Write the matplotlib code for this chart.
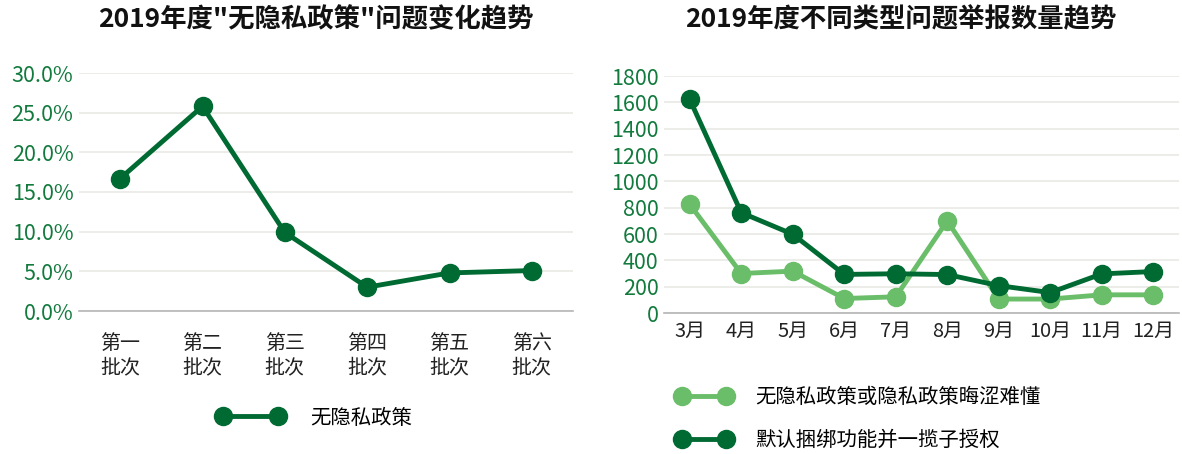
import matplotlib
matplotlib.use("Agg")
import matplotlib.pyplot as plt
from matplotlib.ticker import FuncFormatter

plt.rcParams['font.family'] = ['Noto Sans CJK SC', 'DejaVu Sans']

batches = ["第一\n批次", "第二\n批次", "第三\n批次", "第四\n批次", "第五\n批次", "第六\n批次"]
no_policy_pct = [16.7, 25.8, 9.9, 3.0, 4.8, 5.1]

months = ["3月", "4月", "5月", "6月", "7月", "8月", "9月", "10月", "11月", "12月"]
policy_issue = [825, 300, 318, 110, 123, 700, 106, 106, 138, 138]
bundled_auth = [1622, 762, 598, 293, 298, 292, 208, 155, 297, 315]

title_left = '2019年度"无隐私政策"问题变化趋势'
title_right = "2019年度不同类型问题举报数量趋势"
legend_left = "无隐私政策"
legend_right = ["无隐私政策或隐私政策晦涩难懂", "默认捆绑功能并一揽子授权"]

DARK = "#006a33"
LIGHT = "#6abd69"
TICK_GREEN = "#137a3e"
GRID = "#e9e9e4"
W, H = 1182, 454

fig = plt.figure(figsize=(W/100, H/100), dpi=100)

def style(ax, xpad):
    for s in ["top", "right", "left"]:
        ax.spines[s].set_visible(False)
    ax.spines["bottom"].set_color("#b5b5b5")
    ax.spines["bottom"].set_linewidth(1.2)
    ax.grid(axis="y", color=GRID, linewidth=1.2)
    ax.set_axisbelow(True)
    ax.tick_params(axis="both", length=0)
    ax.tick_params(axis="y", colors=TICK_GREEN, labelsize=15.5, pad=4)
    ax.tick_params(axis="x", colors="#222222", labelsize=14.4, pad=xpad)

# Left chart
axL = fig.add_axes([79/W, 1-311/H, (573-79)/W, (311-73)/H])
xl = range(len(batches))
lineL, = axL.plot(xl, no_policy_pct, color=DARK, lw=3.5, marker="o", ms=13)
axL.set_xlim(-0.5, len(batches)-0.5)
axL.set_ylim(0, 30)
axL.set_yticks([0, 5, 10, 15, 20, 25, 30])
axL.yaxis.set_major_formatter(FuncFormatter(lambda v, p: f"{v:.1f}%"))
axL.set_xticks(list(xl))
axL.set_xticklabels(batches, linespacing=1.2)
style(axL, 16)
fig.text(316/W, 1-20/H, title_left, fontsize=19, fontweight="bold", color="#111111",
         ha="center", va="center")
axL.legend([lineL], [legend_left], loc="center left",
           bbox_to_anchor=(217/W, 1-418/H), bbox_transform=fig.transFigure,
           frameon=False, fontsize=14.7, handlelength=3.3, handletextpad=1.25,
           numpoints=2, borderpad=0, borderaxespad=0)

# Right chart
axR = fig.add_axes([664/W, 1-313/H, (1179-664)/W, (313-76)/H])
xr = range(len(months))
l1, = axR.plot(xr, policy_issue, color=LIGHT, lw=3.5, marker="o", ms=13)
l2, = axR.plot(xr, bundled_auth, color=DARK, lw=3.5, marker="o", ms=13)
axR.set_xlim(-0.5, len(months)-0.5)
axR.set_ylim(0, 1800)
axR.set_yticks(range(0, 1801, 200))
axR.set_xticks(list(xr))
axR.set_xticklabels(months)
style(axR, 6)
fig.text(901/W, 1-20/H, title_right, fontsize=19, fontweight="bold", color="#111111",
         ha="center", va="center")
axR.legend([l1, l2], legend_right, loc="center left",
           bbox_to_anchor=(676/W, 1-419/H), bbox_transform=fig.transFigure,
           frameon=False, fontsize=14.7, handlelength=2.75, handletextpad=1.12,
           numpoints=2, labelspacing=1.1, borderpad=0, borderaxespad=0)

fig.savefig("out.png", dpi=100)
